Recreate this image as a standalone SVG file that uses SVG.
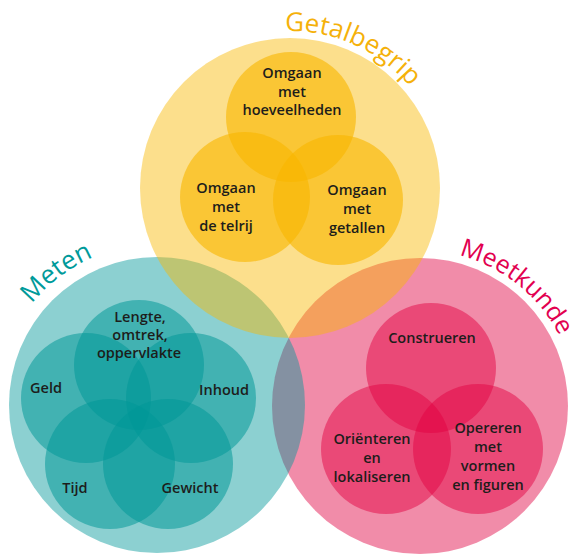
<svg xmlns="http://www.w3.org/2000/svg" width="571" height="554" viewBox="0 0 571 554">
<defs>
<style>
.oy{fill:#F8B700;fill-opacity:.45}
.iy{fill:#F8B700;fill-opacity:.62}
.ot{fill:#009798;fill-opacity:.45}
.it{fill:#009798;fill-opacity:.53}
.op{fill:#E10041;fill-opacity:.45}
.ip{fill:#E10041;fill-opacity:.48}
.lbl{font-family:"Open Sans","Noto Sans","Liberation Sans",sans-serif;font-weight:600;font-size:14.5px;fill:#1d1d1b;text-anchor:middle}
.ttl{font-family:"Open Sans","Noto Sans","Liberation Sans",sans-serif;font-weight:500;font-size:26px}
</style>
<path id="arcY" d="M285,31.1 A157,157 0 0,1 418.6,97.9"/>
<path id="arcT" d="M31.9,303.7 A161,161 0 0,1 115.3,249.5"/>
<path id="arcP" d="M459,255.2 A156,156 0 0,1 561.4,340.1"/>
</defs>
<rect width="571" height="554" fill="#ffffff"/>
<g id="meetkunde">
<circle class="op" cx="420" cy="406" r="148"/>
<circle class="ip" cx="431" cy="368" r="65"/>
<circle class="ip" cx="386" cy="449" r="65"/>
<circle class="ip" cx="478" cy="449" r="65"/>
<text class="ttl" fill="#E2004F" style="font-size:25px"><textPath href="#arcP">Meetkunde</textPath></text>
<text class="lbl" x="432" y="343">Construeren</text>
<text class="lbl" x="372" y="444">Oriënteren</text>
<text class="lbl" x="372" y="463">en</text>
<text class="lbl" x="372" y="482">lokaliseren</text>
<text class="lbl" x="488" y="433">Opereren</text>
<text class="lbl" x="488" y="452">met</text>
<text class="lbl" x="488" y="471">vormen</text>
<text class="lbl" x="488" y="490">en figuren</text>
</g>
<g id="meten">
<circle class="ot" cx="157" cy="405" r="148"/>
<circle class="it" cx="139" cy="365" r="65"/>
<circle class="it" cx="86" cy="398" r="65"/>
<circle class="it" cx="191" cy="398" r="65"/>
<circle class="it" cx="110" cy="464" r="65"/>
<circle class="it" cx="168" cy="464" r="65"/>
<text class="ttl" fill="#009A9A"><textPath href="#arcT">Meten</textPath></text>
<text class="lbl" x="140" y="322">Lengte,</text>
<text class="lbl" x="140" y="340">omtrek,</text>
<text class="lbl" x="139" y="358">oppervlakte</text>
<text class="lbl" x="46" y="393">Geld</text>
<text class="lbl" x="224" y="395">Inhoud</text>
<text class="lbl" x="75" y="493">Tijd</text>
<text class="lbl" x="190" y="493">Gewicht</text>
</g>
<g id="getalbegrip">
<circle class="oy" cx="290" cy="188" r="150"/>
<circle class="iy" cx="291" cy="117" r="65"/>
<circle class="iy" cx="245" cy="197" r="65"/>
<circle class="iy" cx="338" cy="200" r="65"/>
<text class="ttl" fill="#F5B10A"><textPath href="#arcY">Getalbegrip</textPath></text>
<text class="lbl" x="292" y="78">Omgaan</text>
<text class="lbl" x="292" y="96.5">met</text>
<text class="lbl" x="292" y="115">hoeveelheden</text>
<text class="lbl" x="226" y="193">Omgaan</text>
<text class="lbl" x="226" y="212">met</text>
<text class="lbl" x="226" y="231">de telrij</text>
<text class="lbl" x="357" y="195">Omgaan</text>
<text class="lbl" x="357" y="214">met</text>
<text class="lbl" x="357" y="233">getallen</text>
</g>
</svg>
